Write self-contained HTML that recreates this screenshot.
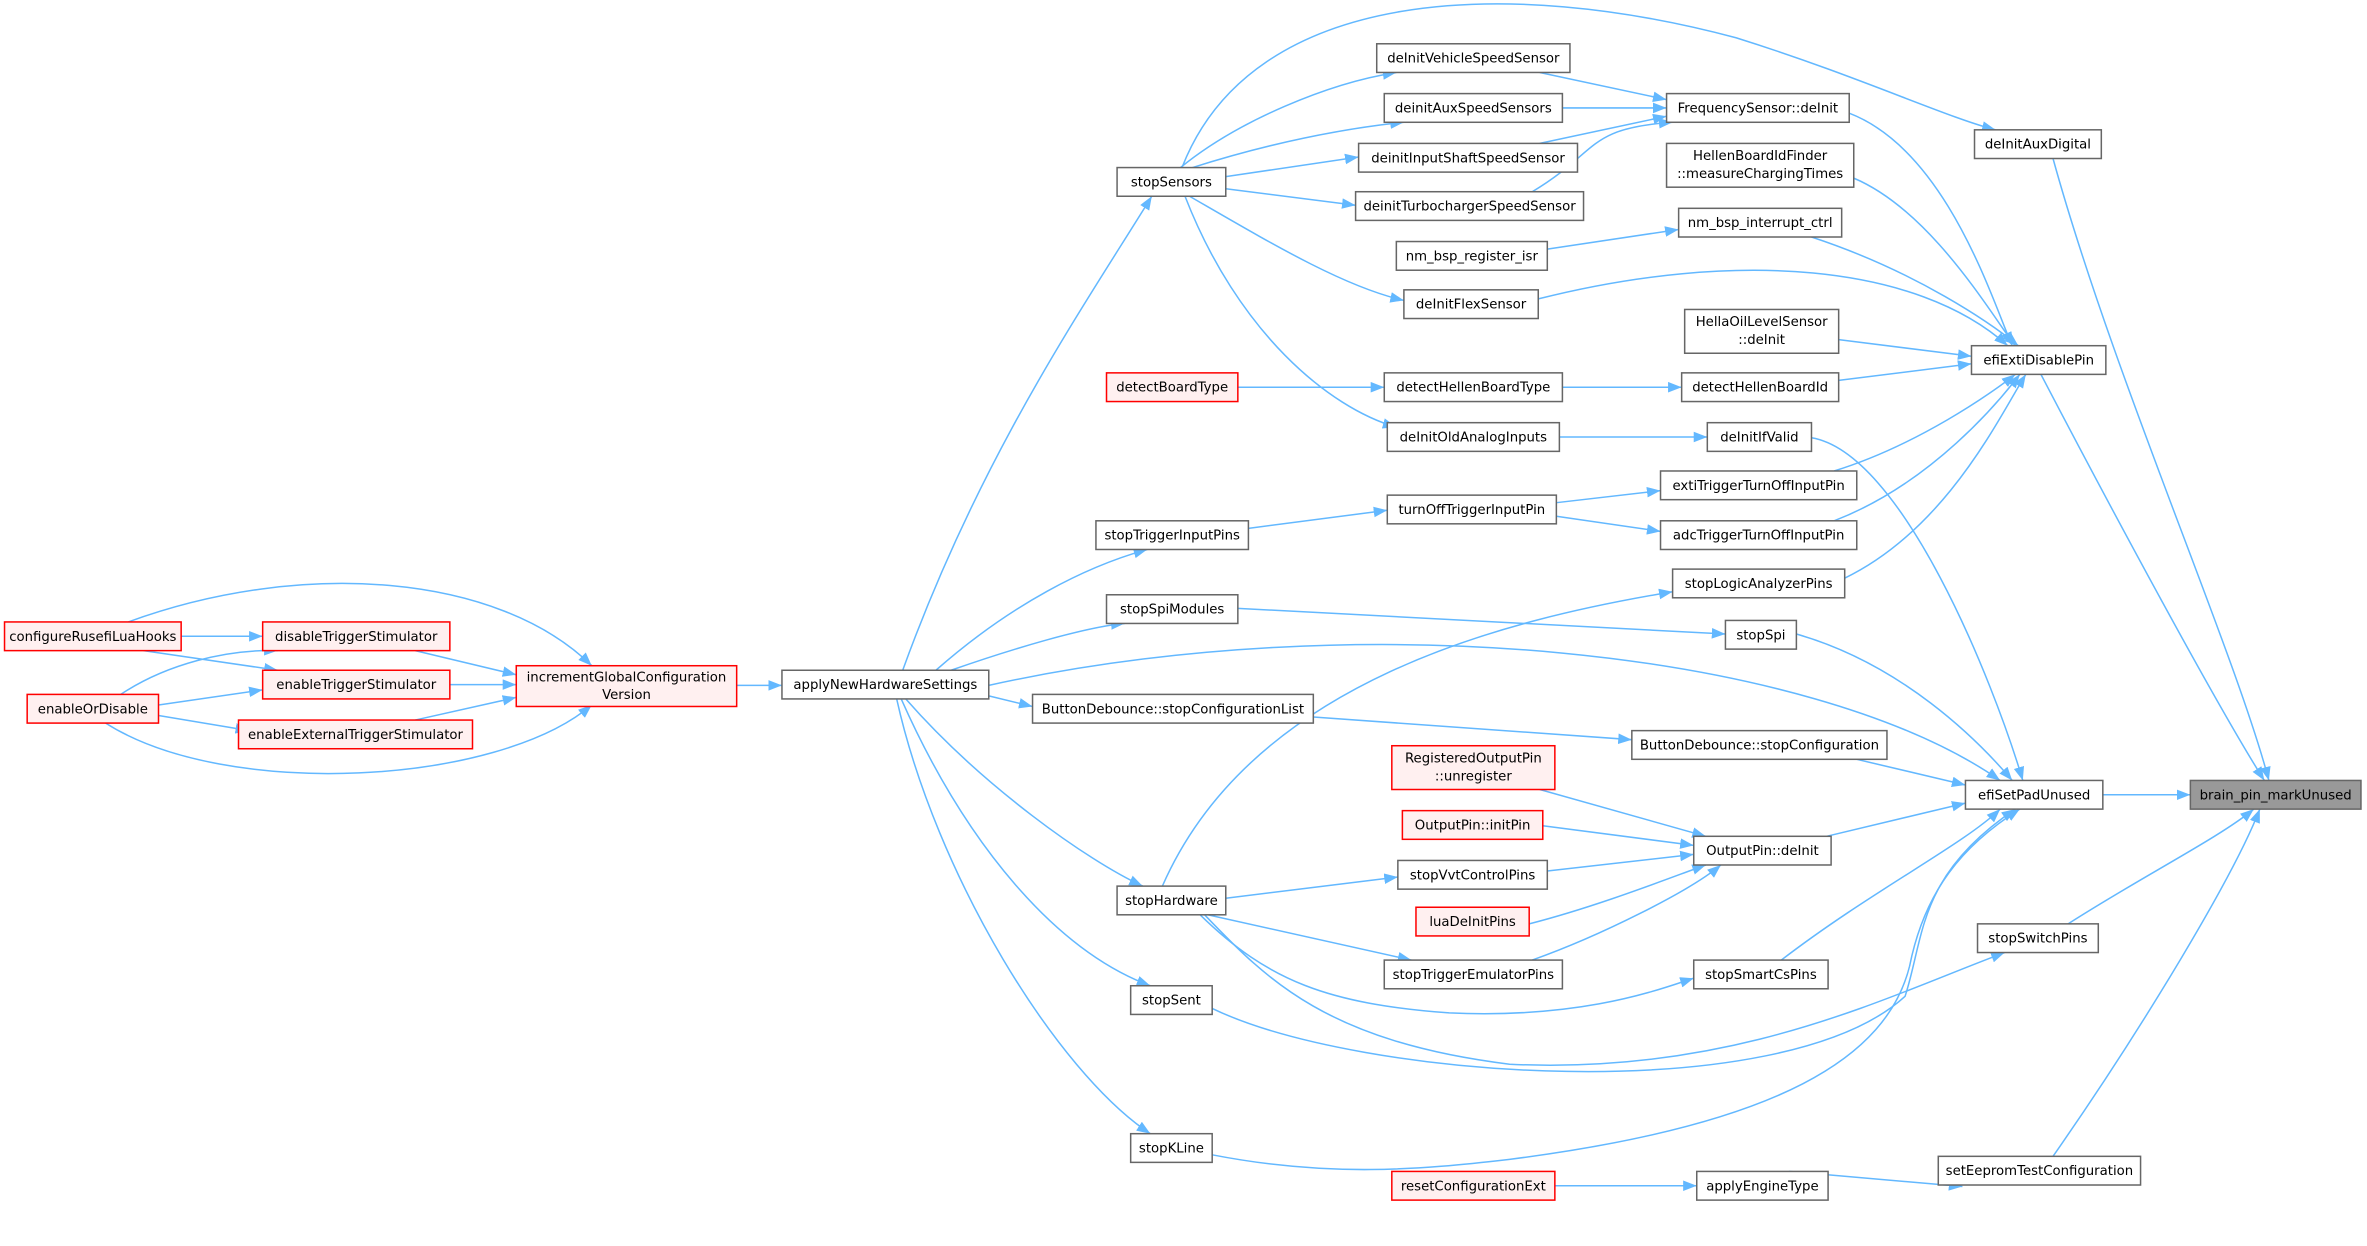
<!DOCTYPE html>
<html><head><meta charset="utf-8"><style>
html,body{margin:0;padding:0;background:#fff;}
svg{display:block;}
text{font-family:"DejaVu Sans","Liberation Sans",sans-serif;font-size:8.8px;fill:#000;text-anchor:middle;}
.e{fill:none;stroke:#63b8ff;stroke-width:1;}
.n{fill:#fff;stroke:#666;stroke-width:1;}
.r{fill:#fff0f0;stroke:#ff0000;stroke-width:1;}
.g{fill:#999;stroke:#666;stroke-width:1;}
</style></head><body>
<svg width="2367" height="1246" viewBox="0 0 1568 825.4" xmlns="http://www.w3.org/2000/svg">
<defs><marker id="a" markerUnits="userSpaceOnUse" markerWidth="10" markerHeight="8" refX="9" refY="3.5" orient="auto"><path d="M0,0 L9,3.5 L0,7z" fill="#63b8ff"/></marker></defs>
<g class="e" marker-end="url(#a)">
<path d="M1393,526.5 L1451,526.5"/>
<path d="M1352,248 C1400,340 1470,470 1500,517"/>
<path d="M1360,105 C1400,250 1480,430 1503,517"/>
<path d="M1370,612 C1420,580 1470,555 1493,536"/>
<path d="M1360,766 C1420,680 1480,580 1497,536"/>
<path d="M1185,776 L1300,786"/>
<path d="M1030,785.5 L1124,785.5"/>
<path d="M783,111 C830,-10 1000,-15 1150,25 C1230,50 1290,78 1322,86"/>
<path d="M1225,75 C1290,100 1320,200 1333,229"/>
<path d="M1228,118 C1280,140 1320,210 1335,229"/>
<path d="M1200,157 C1270,180 1320,215 1337,229"/>
<path d="M1019,198 C1150,165 1270,175 1330,229"/>
<path d="M1218,225 L1306,236"/>
<path d="M1218,252 L1306,241"/>
<path d="M1215,312 C1270,295 1320,260 1335,248"/>
<path d="M1215,345 C1280,320 1325,265 1338,248"/>
<path d="M1222,383 C1290,350 1325,275 1342,248"/>
<path d="M1200,290 C1260,300 1320,450 1340,517"/>
<path d="M1190,420 C1260,440 1310,490 1333,517"/>
<path d="M655,454 C900,400 1200,430 1325,517"/>
<path d="M1230,503 L1302,520"/>
<path d="M1210,554 L1302,532"/>
<path d="M1180,636 C1240,590 1300,560 1325,536"/>
<path d="M803,668 C900,715 1180,735 1262,660 C1275,620 1270,580 1335,536"/>
<path d="M803,765 C880,780 940,775 1000,768 C1180,745 1250,700 1265,640 C1275,590 1300,560 1338,536"/>
<path d="M798,606 C840,650 880,690 1000,705 C1150,712 1250,660 1328,631"/>
<path d="M795,606 C840,650 880,665 960,671 C1050,675 1100,655 1122,648"/>
<path d="M770,587 C830,450 1000,410 1108,392"/>
<path d="M812,595 L926,581"/>
<path d="M800,606 L935,636"/>
<path d="M1020,523 L1130,554"/>
<path d="M1022,547 L1122,560"/>
<path d="M1025,577 L1122,566"/>
<path d="M1013,612 C1060,600 1110,580 1130,573"/>
<path d="M1015,636 C1060,620 1120,590 1140,573"/>
<path d="M870,475 L1081,490"/>
<path d="M820,403 L1143,420"/>
<path d="M827,350 L919,338"/>
<path d="M1031,333 L1100,325"/>
<path d="M1031,342 L1100,352"/>
<path d="M1033,289.5 L1131,289.5"/>
<path d="M820,256.5 L917,256.5"/>
<path d="M1035,256.5 L1114,256.5"/>
<path d="M1025,165 L1112,152"/>
<path d="M1020,48 L1104,66"/>
<path d="M1035,71.5 L1104,71.5"/>
<path d="M1020,95 L1104,77"/>
<path d="M1015,127 C1060,100 1050,85 1108,81"/>
<path d="M782,111 C820,80 880,55 925,48"/>
<path d="M790,111 C840,95 890,85 930,81"/>
<path d="M812,117 L900,104"/>
<path d="M812,125 L898,136"/>
<path d="M788,130 C840,160 890,190 930,199"/>
<path d="M785,130 C820,220 880,270 925,283"/>
<path d="M598,444 C650,300 720,200 763,130"/>
<path d="M620,444 C670,400 720,375 760,364"/>
<path d="M630,444 C670,430 720,415 745,413"/>
<path d="M655,461 L684,468"/>
<path d="M600,463 C650,520 720,570 757,587"/>
<path d="M597,463 C640,560 700,630 762,653"/>
<path d="M594,463 C620,580 700,710 762,751"/>
<path d="M488,454 L518,454"/>
<path d="M275,431 L342,447"/>
<path d="M298,453.5 L342,453.5"/>
<path d="M275,477 L342,462"/>
<path d="M120,421.5 L174,421.5"/>
<path d="M95,431 L184,444"/>
<path d="M85,412 C200,370 330,380 392,441"/>
<path d="M80,460 C110,440 150,430 184,431"/>
<path d="M105,467 L174,457"/>
<path d="M105,474 L165,484"/>
<path d="M70,479 C150,530 330,520 392,467"/>
</g>
<g>
<rect class="g" x="1451" y="517" width="113" height="19"/><text x="1507.5" y="529.5">brain_pin_markUnused</text>
<rect class="n" x="1302" y="517" width="91" height="19"/><text x="1347.5" y="529.5">efiSetPadUnused</text>
<rect class="n" x="1306" y="229" width="89" height="19"/><text x="1350.5" y="241.5">efiExtiDisablePin</text>
<rect class="n" x="1308" y="86" width="84" height="19"/><text x="1350" y="98.5">deInitAuxDigital</text>
<rect class="n" x="1310" y="612" width="80" height="19"/><text x="1350" y="624.5">stopSwitchPins</text>
<rect class="n" x="1284" y="766" width="134" height="19"/><text x="1351" y="778.5">setEepromTestConfiguration</text>
<rect class="n" x="1124" y="776" width="87" height="19"/><text x="1167.5" y="788.5">applyEngineType</text>
<rect class="r" x="922" y="776" width="108" height="19"/><text x="976" y="788.5">resetConfigurationExt</text>
<rect class="n" x="1104" y="62" width="121" height="19"/><text x="1164.5" y="74.5">FrequencySensor::deInit</text>
<rect class="n" x="1104" y="95" width="124" height="29"/><text x="1166" y="106">HellenBoardIdFinder</text><text x="1166" y="118">::measureChargingTimes</text>
<rect class="n" x="1112" y="138" width="108" height="19"/><text x="1166" y="150.5">nm_bsp_interrupt_ctrl</text>
<rect class="n" x="1116" y="205" width="102" height="29"/><text x="1167" y="216">HellaOilLevelSensor</text><text x="1167" y="228">::deInit</text>
<rect class="n" x="1114" y="247" width="104" height="19"/><text x="1166" y="259.5">detectHellenBoardId</text>
<rect class="n" x="1131" y="280" width="69" height="19"/><text x="1165.5" y="292.5">deInitIfValid</text>
<rect class="n" x="1100" y="312" width="130" height="19"/><text x="1165" y="324.5">extiTriggerTurnOffInputPin</text>
<rect class="n" x="1100" y="345" width="130" height="19"/><text x="1165" y="357.5">adcTriggerTurnOffInputPin</text>
<rect class="n" x="1108" y="377" width="114" height="19"/><text x="1165" y="389.5">stopLogicAnalyzerPins</text>
<rect class="n" x="1143" y="411" width="47" height="19"/><text x="1166.5" y="423.5">stopSpi</text>
<rect class="n" x="1081" y="484" width="169" height="19"/><text x="1165.5" y="496.5">ButtonDebounce::stopConfiguration</text>
<rect class="n" x="1122" y="554" width="91" height="19"/><text x="1167.5" y="566.5">OutputPin::deInit</text>
<rect class="n" x="1122" y="636" width="89" height="19"/><text x="1166.5" y="648.5">stopSmartCsPins</text>
<rect class="n" x="912" y="29" width="128" height="19"/><text x="976" y="41.5">deInitVehicleSpeedSensor</text>
<rect class="n" x="917" y="62" width="118" height="19"/><text x="976" y="74.5">deinitAuxSpeedSensors</text>
<rect class="n" x="900" y="95" width="145" height="19"/><text x="972.5" y="107.5">deinitInputShaftSpeedSensor</text>
<rect class="n" x="898" y="127" width="151" height="19"/><text x="973.5" y="139.5">deinitTurbochargerSpeedSensor</text>
<rect class="n" x="925" y="160" width="100" height="19"/><text x="975" y="172.5">nm_bsp_register_isr</text>
<rect class="n" x="930" y="192" width="89" height="19"/><text x="974.5" y="204.5">deInitFlexSensor</text>
<rect class="n" x="917" y="247" width="118" height="19"/><text x="976" y="259.5">detectHellenBoardType</text>
<rect class="n" x="919" y="280" width="114" height="19"/><text x="976" y="292.5">deInitOldAnalogInputs</text>
<rect class="n" x="919" y="328" width="112" height="19"/><text x="975" y="340.5">turnOffTriggerInputPin</text>
<rect class="r" x="733" y="247" width="87" height="19"/><text x="776.5" y="259.5">detectBoardType</text>
<rect class="n" x="740" y="111" width="72" height="19"/><text x="776" y="123.5">stopSensors</text>
<rect class="n" x="726" y="345" width="101" height="19"/><text x="776.5" y="357.5">stopTriggerInputPins</text>
<rect class="n" x="733" y="394" width="87" height="19"/><text x="776.5" y="406.5">stopSpiModules</text>
<rect class="n" x="684" y="460" width="186" height="19"/><text x="777" y="472.5">ButtonDebounce::stopConfigurationList</text>
<rect class="r" x="922" y="494" width="108" height="29"/><text x="976" y="505">RegisteredOutputPin</text><text x="976" y="517">::unregister</text>
<rect class="r" x="929" y="537" width="93" height="19"/><text x="975.5" y="549.5">OutputPin::initPin</text>
<rect class="n" x="926" y="570" width="99" height="19"/><text x="975.5" y="582.5">stopVvtControlPins</text>
<rect class="r" x="938" y="601" width="75" height="19"/><text x="975.5" y="613.5">luaDeInitPins</text>
<rect class="n" x="917" y="636" width="118" height="19"/><text x="976" y="648.5">stopTriggerEmulatorPins</text>
<rect class="n" x="740" y="587" width="72" height="19"/><text x="776" y="599.5">stopHardware</text>
<rect class="n" x="749" y="653" width="54" height="19"/><text x="776" y="665.5">stopSent</text>
<rect class="n" x="749" y="751" width="54" height="19"/><text x="776" y="763.5">stopKLine</text>
<rect class="n" x="518" y="444" width="137" height="19"/><text x="586.5" y="456.5">applyNewHardwareSettings</text>
<rect class="r" x="342" y="441" width="146" height="27"/><text x="415" y="451.5">incrementGlobalConfiguration</text><text x="415" y="463">Version</text>
<rect class="r" x="174" y="412" width="124" height="19"/><text x="236" y="424.5">disableTriggerStimulator</text>
<rect class="r" x="174" y="444" width="124" height="19"/><text x="236" y="456.5">enableTriggerStimulator</text>
<rect class="r" x="158" y="477" width="155" height="19"/><text x="235.5" y="489.5">enableExternalTriggerStimulator</text>
<rect class="r" x="3" y="412" width="117" height="19"/><text x="61.5" y="424.5">configureRusefiLuaHooks</text>
<rect class="r" x="18" y="460" width="87" height="19"/><text x="61.5" y="472.5">enableOrDisable</text>
</g>
</svg>
</body></html>
